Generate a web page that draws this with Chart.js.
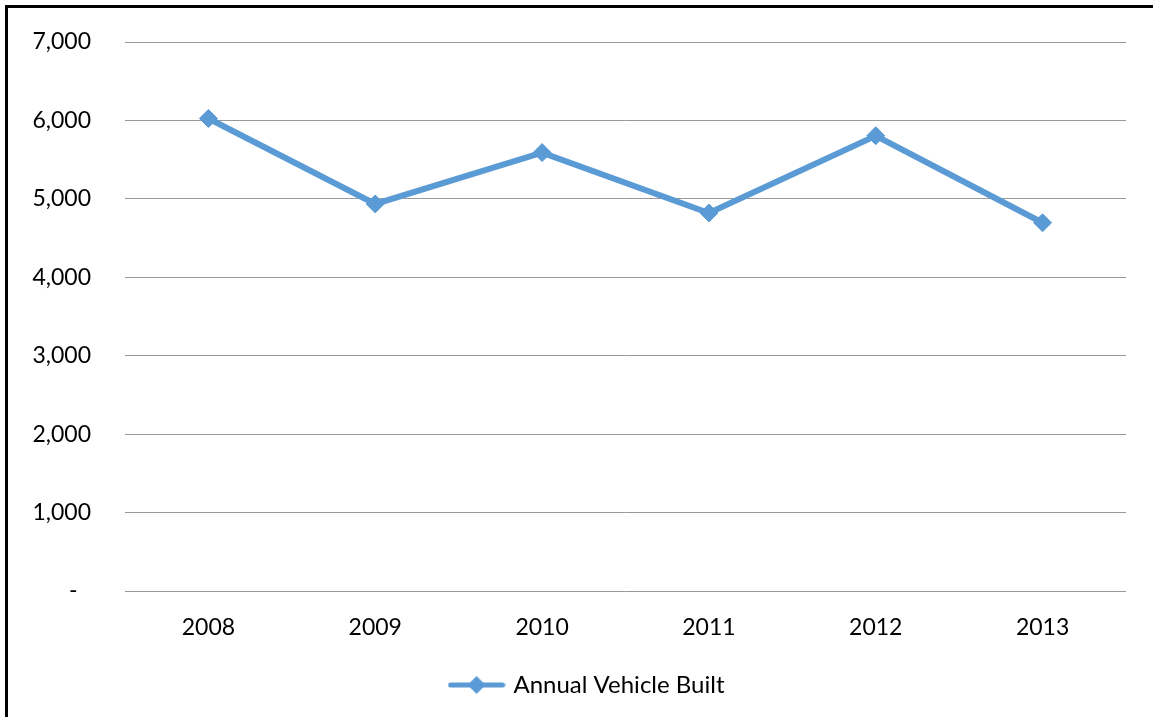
<!DOCTYPE html>
<html>
<head>
<meta charset="utf-8">
<script src="https://cdn.jsdelivr.net/npm/chart.js@4.4.1/dist/chart.umd.min.js"></script>
<style>
  html, body { margin: 0; padding: 0; background: #fff; }
  canvas { display: block; }
</style>
</head>
<body>
<canvas id="myChart" width="1153" height="717"></canvas>
<script>
const years = ['2008', '2009', '2010', '2011', '2012', '2013'];
const vehiclesBuilt = [6025, 4935, 5590, 4820, 5805, 4695];
const yTicks = [0, 1000, 2000, 3000, 4000, 5000, 6000, 7000];
const seriesName = 'Annual Vehicle Built';

const lineColor = '#5B9BD5';
const fontFamily = 'Lato, "Open Sans", sans-serif';

// legend swatch: short line with a diamond in the middle
function legendSwatch() {
    const c = document.createElement('canvas');
    c.width = 58;
    c.height = 20;
    const g = c.getContext('2d');
    g.strokeStyle = lineColor;
    g.lineWidth = 5;
    g.lineCap = 'round';
    g.beginPath();
    g.moveTo(3, 10);
    g.lineTo(55, 10);
    g.stroke();
    g.fillStyle = lineColor;
    g.beginPath();
    g.moveTo(29, 1);
    g.lineTo(38, 10);
    g.lineTo(29, 19);
    g.lineTo(20, 10);
    g.closePath();
    g.fill();
    return c;
}

// black frame on the top and left edges
const framePlugin = {
    id: 'frame',
    beforeDraw(chart) {
        const ctx = chart.ctx;
        ctx.save();
        ctx.fillStyle = '#fff';
        ctx.fillRect(0, 0, chart.width, chart.height);
        ctx.fillStyle = '#000';
        ctx.fillRect(5, 5, chart.width - 5, 3);
        ctx.fillRect(5, 5, 3, chart.height - 5);
        ctx.restore();
    }
};

// nudge the legend a bit to the right of centre
const legendShift = {
    id: 'legendShift',
    afterLayout(chart) {
        if (chart.legend) {
            chart.legend.left += 25;
            chart.legend.right += 25;
        }
    }
};

const ctx = document.getElementById('myChart').getContext('2d');
const myChart = new Chart(ctx, {
    type: 'line',
    data: {
        labels: years,
        datasets: [{
            label: seriesName,
            data: vehiclesBuilt,
            borderColor: lineColor,
            backgroundColor: lineColor,
            borderWidth: 6,
            pointStyle: 'rectRot',
            pointRadius: 9,
            pointBorderWidth: 1,
            pointBackgroundColor: lineColor,
            pointBorderColor: lineColor,
            tension: 0
        }]
    },
    options: {
        responsive: false,
        animation: false,
        layout: {
            padding: { top: 42, right: 27, bottom: 10, left: 0 }
        },
        scales: {
            x: {
                offset: true,
                grid: { display: false, drawTicks: false },
                border: { display: false },
                ticks: {
                    color: '#000',
                    padding: 23,
                    font: { family: fontFamily, size: 23 }
                },
                afterFit(scale) { scale.height = 62; }
            },
            y: {
                min: 0,
                max: 7000,
                afterBuildTicks(scale) {
                    scale.ticks = yTicks.map(v => ({ value: v }));
                },
                grid: { color: '#9a9a9a', lineWidth: 1, drawTicks: false },
                border: { display: false },
                ticks: {
                    color: '#000',
                    padding: 34,
                    font: { family: fontFamily, size: 23 },
                    callback: (v) => v === 0 ? '-\u2007' : v.toLocaleString('en-US')
                },
                afterFit(scale) {
                    scale.width = 125;
                    // let layout.padding decide the top of the plot
                    scale.paddingTop = 0;
                    scale.paddingBottom = 0;
                }
            }
        },
        plugins: {
            legend: {
                position: 'bottom',
                labels: {
                    usePointStyle: true,
                    pointStyle: legendSwatch(),
                    pointStyleWidth: 50,
                    color: '#000',
                    padding: 20,
                    font: { family: fontFamily, size: 24 }
                }
            },
            tooltip: { enabled: false }
        }
    },
    plugins: [framePlugin, legendShift]
});
</script>
</body>
</html>
